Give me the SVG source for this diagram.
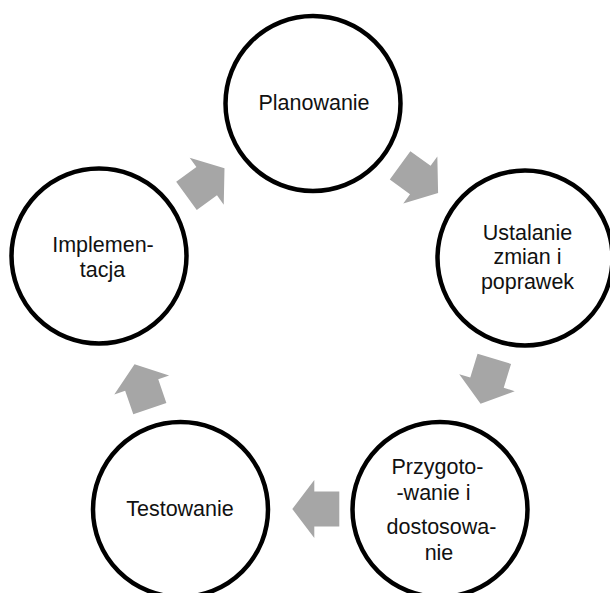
<svg xmlns="http://www.w3.org/2000/svg" width="610" height="593" viewBox="0 0 610 593">
<style>
.node{fill:#fff;stroke:#000;stroke-width:4.5}
.lbl{font-family:"Liberation Sans",Arial,sans-serif;font-size:21.5px;fill:#111;text-anchor:middle}
.arr{fill:#a6a6a6}
</style>
<defs>
<polygon id="arrow" class="arr" points="-25,-17.5 0,-17.5 0,-29 22,0 0,29 0,17.5 -25,17.5"/>
</defs>
<rect width="610" height="593" fill="#fff"/>
<g id="connectors">
<use href="#arrow" transform="translate(420.3,180) rotate(36)"/>
<use href="#arrow" transform="translate(487,382.7) rotate(107)"/>
<use href="#arrow" transform="translate(314.3,509) rotate(180)"/>
<use href="#arrow" transform="translate(141.7,385) rotate(-109)"/>
<use href="#arrow" transform="translate(206.7,181.2) rotate(-36)"/>
</g>
<g id="planowanie">
<circle class="node" cx="313" cy="103.5" r="87.5"/>
<text class="lbl" x="314" y="110">Planowanie</text>
</g>
<g id="ustalanie">
<circle class="node" cx="525" cy="258" r="87.5"/>
<text class="lbl" x="527.5" y="239.5">Ustalanie</text>
<text class="lbl" x="527.5" y="264">zmian i</text>
<text class="lbl" x="527.5" y="289">poprawek</text>
</g>
<g id="przygotowanie">
<circle class="node" cx="440" cy="509.5" r="87.5"/>
<text class="lbl" x="437.5" y="474">Przygoto-</text>
<text class="lbl" x="433.5" y="500">-wanie i</text>
<text class="lbl" x="441.5" y="534">dostosowa-</text>
<text class="lbl" x="439" y="560">nie</text>
</g>
<g id="testowanie">
<circle class="node" cx="180.5" cy="509.5" r="87.5"/>
<text class="lbl" x="180" y="515.5">Testowanie</text>
</g>
<g id="implementacja">
<circle class="node" cx="99" cy="256" r="87.5"/>
<text class="lbl" x="103" y="252">Implemen-</text>
<text class="lbl" x="102.5" y="276.5">tacja</text>
</g>
</svg>
